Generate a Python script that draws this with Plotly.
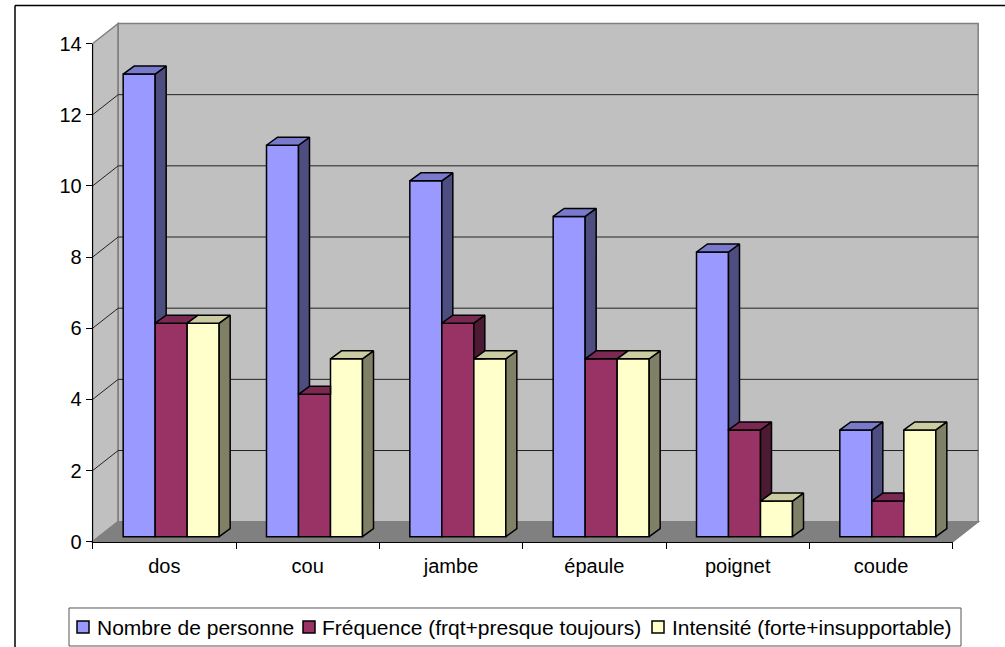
import plotly.graph_objects as go

categories = ["dos", "cou", "jambe", "épaule", "poignet", "coude"]
nombre = [13, 11, 10, 9, 8, 3]
frequence = [6, 4, 6, 5, 3, 1]
intensite = [6, 5, 5, 5, 1, 3]
series_names = ["Nombre de personne", "Fréquence (frqt+presque toujours)", "Intensité (forte+insupportable)"]
y_ticks = [0, 2, 4, 6, 8, 10, 12, 14]

W, H = 1005, 647
X0, X1 = 92.7, 952.7
Y0, Y14 = 541.7, 43.5
CAT_PX = (X1 - X0) / len(categories)
VAL_PX = (Y0 - Y14) / 14
WALL_DX, WALL_DY = 25.5, 20
BAR_DX, BAR_DY = 11, 8
BAR_W = 32
LIFT = 5 / VAL_PX
GROUP_SHIFT = 6.8

series = [nombre, frequence, intensite]
fronts = ["#9999FF", "#993366", "#FFFFCC"]
tops = ["#7A7ACC", "#7A2952", "#CCCCA3"]
sides = ["#4D4D80", "#4D1A33", "#808066"]

w = BAR_W / CAT_PX
ddx = BAR_DX / CAT_PX
ddy = BAR_DY / VAL_PX
offs = [(-3 * BAR_W / 2 + GROUP_SHIFT + i * BAR_W) / CAT_PX for i in range(3)]


def px(p):
    return p / W


def py(p):
    return 1 - p / H


fig = go.Figure()

for i, vals in enumerate(series):
    fig.add_trace(go.Bar(
        x=categories, y=vals, base=LIFT, width=w, offset=offs[i], name=series_names[i],
        marker=dict(color=fronts[i], line=dict(color="black", width=1.5)), showlegend=False,
        hoverinfo="name+x+y",
    ))


def poly(xs, ys, color):
    fig.add_trace(go.Scatter(
        x=xs + xs[:1], y=ys + ys[:1], xaxis="x2", yaxis="y", mode="lines", fill="toself", fillcolor=color,
        line=dict(color="black", width=1.5), showlegend=False, hoverinfo="skip",
    ))


for c in range(len(categories)):
    for i in range(3):
        t = series[i][c] + LIFT
        L = c + offs[i]
        R = L + w
        nxt = series[i + 1][c] + LIFT if i < 2 else None
        if nxt is None:
            poly([R, R + ddx, R + ddx, R], [t, t + ddy, LIFT + ddy, LIFT], sides[i])
        elif nxt < t:
            poly([R, R + ddx, R + ddx, R], [t, t + ddy, nxt, nxt], sides[i])
        if nxt is not None and nxt > t:
            poly([L, R, R, L + ddx], [t, t, t + ddy, t + ddy], tops[i])
        else:
            poly([L, R, R + ddx, L + ddx], [t, t, t + ddy, t + ddy], tops[i])

shapes = []


def sh_poly(points, fill, line, width=1.5):
    path = "M" + " L".join(f"{px(a):.5f},{py(b):.5f}" for a, b in points) + " Z"
    shapes.append(dict(type="path", xref="paper", yref="paper", path=path, fillcolor=fill,
                       line=dict(color=line, width=width), layer="below"))


def sh_line(a, b, c, d, color, width=1.0):
    shapes.append(dict(type="line", xref="paper", yref="paper", x0=px(a), y0=py(b), x1=px(c), y1=py(d),
                       line=dict(color=color, width=width), layer="below"))


# frame
sh_line(15, 5.5, 1005, 5.5, "black", 1.5)
sh_line(15, 5.5, 15, 647, "black", 1.5)
# walls
sh_poly([(X0, Y14), (X0 + WALL_DX, Y14 - WALL_DY), (X0 + WALL_DX, Y0 - WALL_DY), (X0, Y0)], "#C0C0C0", "#808080")
sh_poly([(X0 + WALL_DX, Y14 - WALL_DY), (X1 + WALL_DX, Y14 - WALL_DY), (X1 + WALL_DX, Y0 - WALL_DY),
         (X0 + WALL_DX, Y0 - WALL_DY)], "#C0C0C0", "#808080")
sh_poly([(X0, Y0), (X0 + WALL_DX, Y0 - WALL_DY), (X1 + WALL_DX, Y0 - WALL_DY), (X1, Y0)], "#808080", "#808080")
for v in y_ticks[1:-1]:
    yy = Y0 - v * VAL_PX
    sh_line(X0, yy, X0 + WALL_DX, yy - WALL_DY, "#222222", 1)
    sh_line(X0 + WALL_DX, yy - WALL_DY, X1 + WALL_DX, yy - WALL_DY, "#222222", 1)
# legend box
LEG_L, LEG_T, LEG_R, LEG_B = 69, 608, 961, 646
sh_poly([(LEG_L, LEG_T), (LEG_R, LEG_T), (LEG_R, LEG_B), (LEG_L, LEG_B)], "white", "#555555", 1)

swatch_x = [77, 303, 652]
text_x = [95.5, 321, 671]
annotations = []
for i, name in enumerate(series_names):
    ym = 627
    sh_poly([(swatch_x[i], ym - 6), (swatch_x[i] + 12, ym - 6), (swatch_x[i] + 12, ym + 6), (swatch_x[i], ym + 6)],
            fronts[i], "black", 1.5)
    annotations.append(dict(text=name, xref="paper", yref="paper", x=px(text_x[i]), y=py(ym), xanchor="left",
                            yanchor="middle", showarrow=False, xshift=-1,
                            font=dict(family="Liberation Sans, Arial, sans-serif", size=21, color="black")))

fig.update_layout(
    width=W, height=H, autosize=False,
    margin=dict(l=0, r=0, t=0, b=0, pad=0),
    paper_bgcolor="white", plot_bgcolor="rgba(0,0,0,0)",
    barmode="overlay",
    showlegend=False,
    font=dict(family="Liberation Sans, Arial, sans-serif", size=20, color="black"),
    xaxis=dict(type="category", categoryorder="array", categoryarray=categories,
               domain=[px(X0), px(X1)], range=[-0.5, 5.5], tickson="boundaries", automargin=False,
               ticks="outside", ticklen=6, tickcolor="black", tickwidth=1,
               showline=True, linecolor="black", linewidth=1, showgrid=False, zeroline=False,
               ticklabelstandoff=6, fixedrange=True),
    xaxis2=dict(overlaying="x", range=[-0.5, 5.5], visible=False, domain=[px(X0), px(X1)],
                fixedrange=True, automargin=False),
    yaxis=dict(domain=[py(Y0), py(Y14)], range=[0, 14], tickvals=y_ticks, automargin=False,
               ticks="outside", ticklen=6, tickcolor="black", tickwidth=1,
               showline=True, linecolor="black", linewidth=1, showgrid=False, zeroline=False,
               fixedrange=True),
    shapes=shapes, annotations=annotations,
)

fig.write_html("out.html", config={"displayModeBar": False},
               post_script="document.body.style.margin='0';")
